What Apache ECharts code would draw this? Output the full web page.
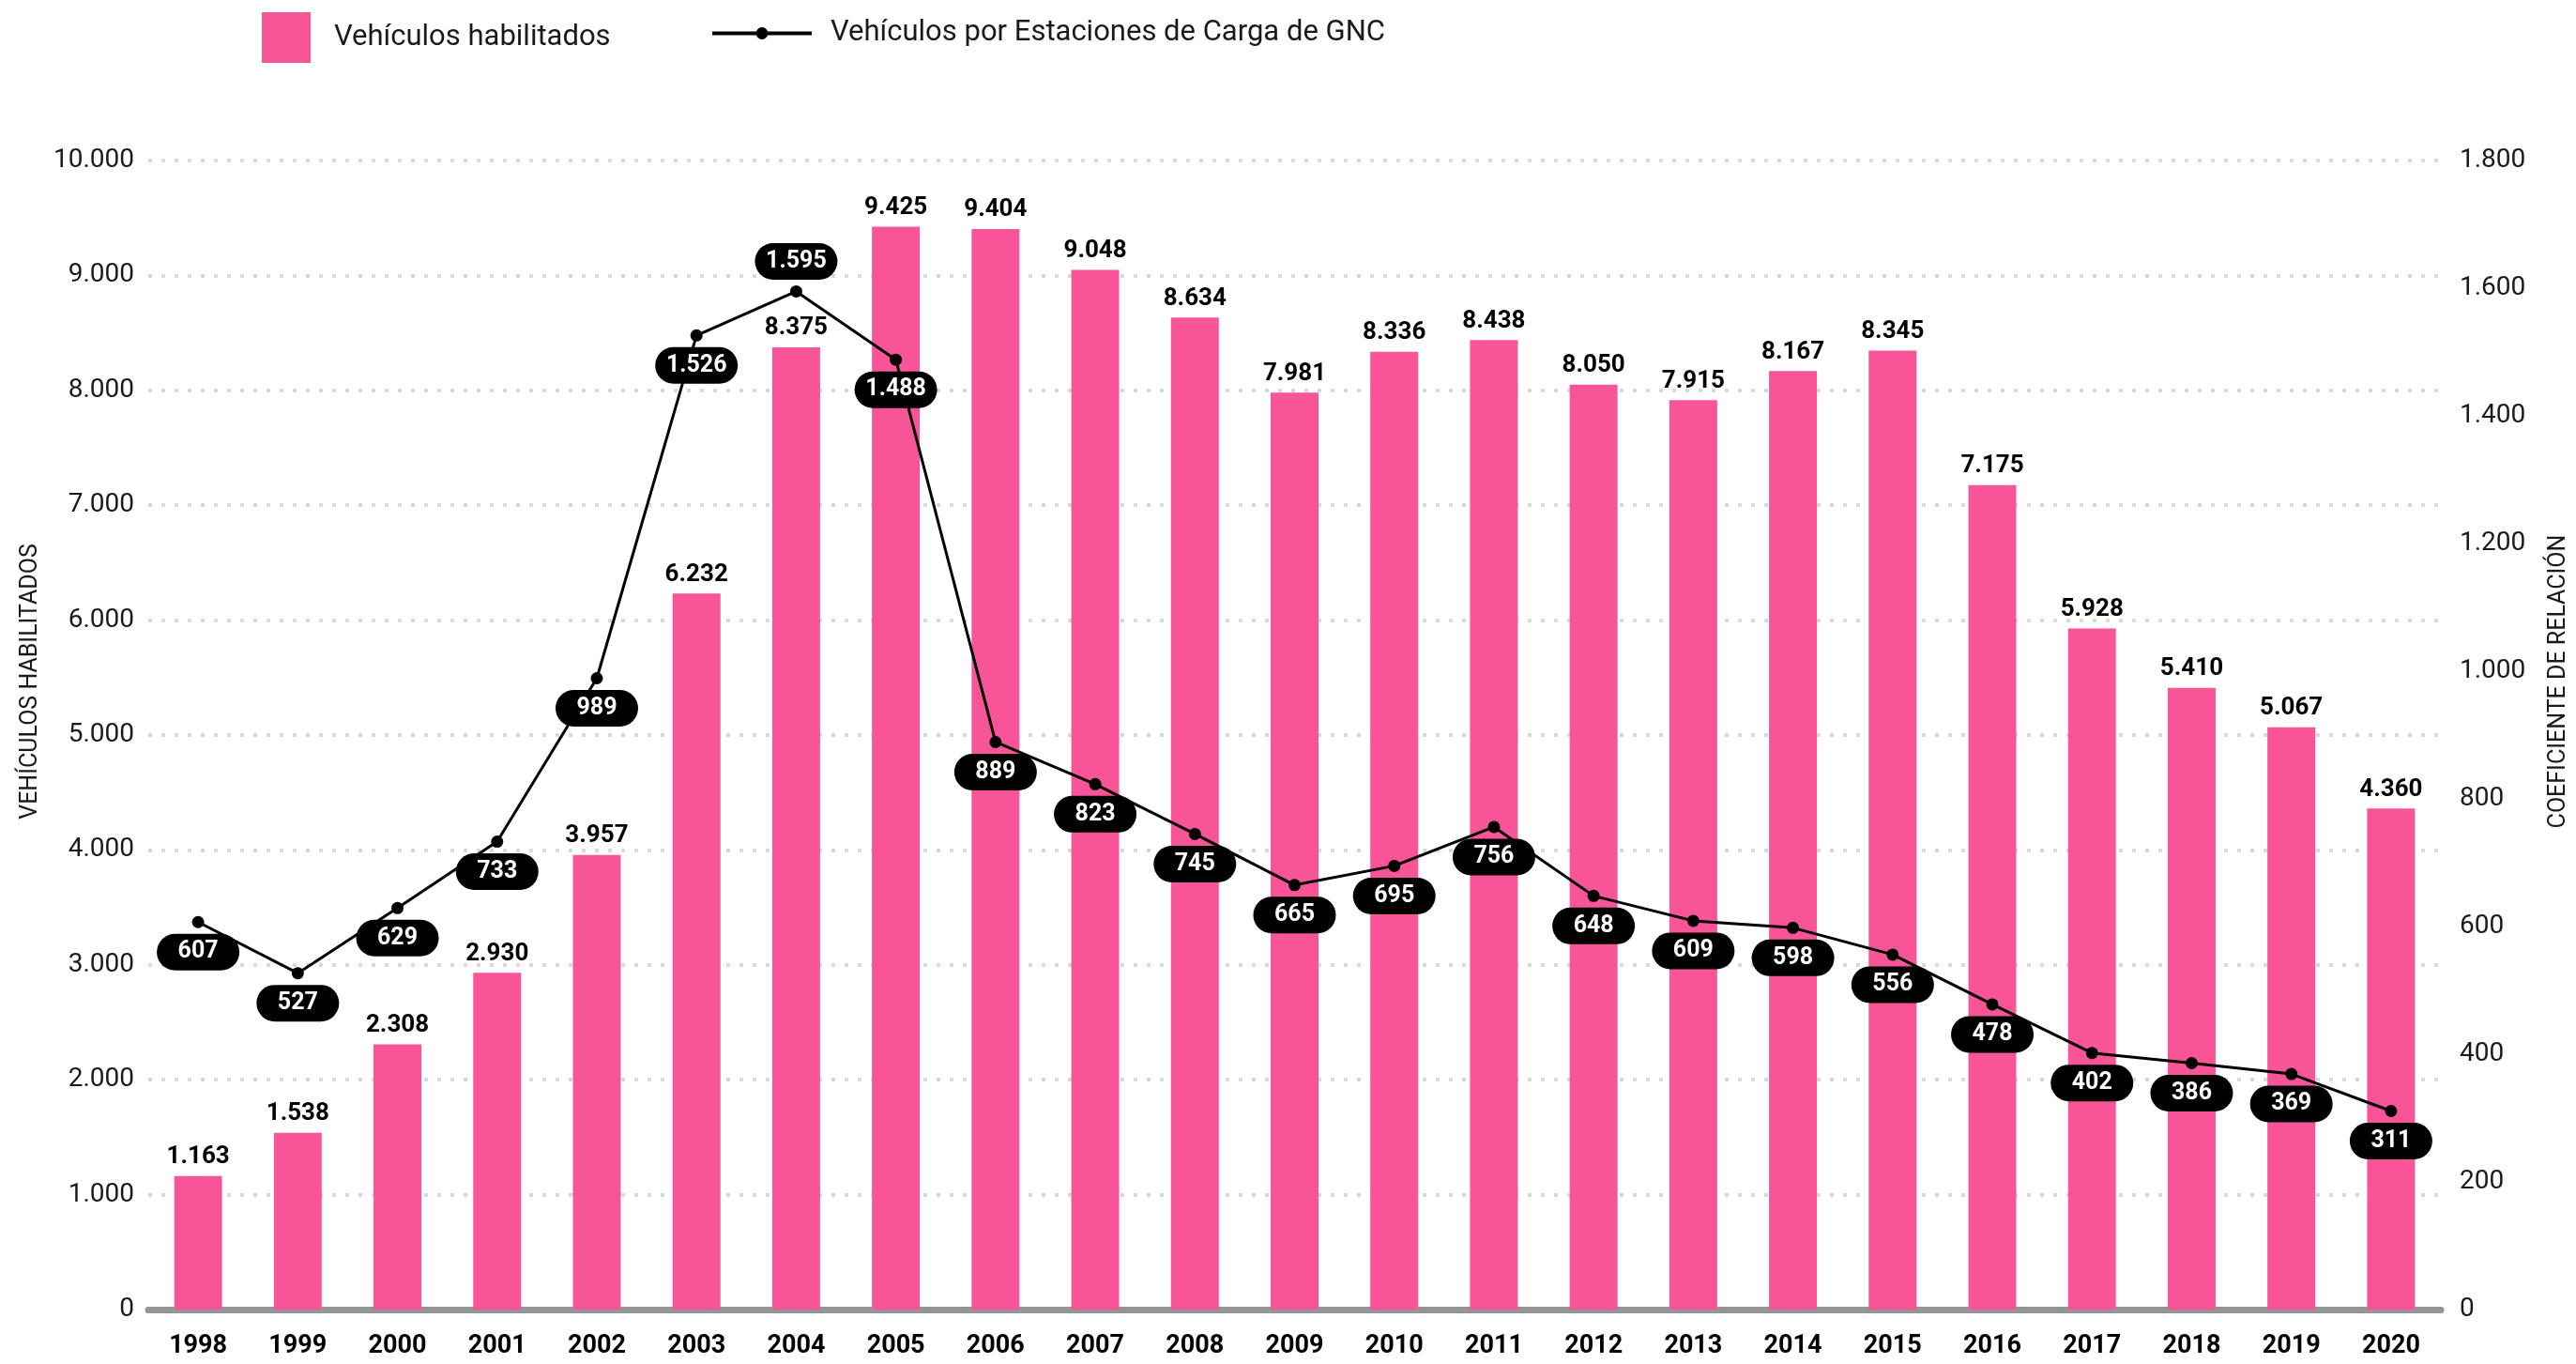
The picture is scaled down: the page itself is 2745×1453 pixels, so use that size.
<!DOCTYPE html>
<html lang="es">
<head>
<meta charset="UTF-8">
<title>Vehículos habilitados GNC</title>
<script src="https://cdn.jsdelivr.net/npm/echarts@6/dist/echarts.min.js"></script>
<style>
  body { margin: 0; padding: 0; background: #fff; overflow: hidden; }
  #chart { width: 2745px; height: 1453px; }
</style>
</head>
<body>
<div id="chart"></div>
<script>
// datos
const years = ['1998','1999','2000','2001','2002','2003','2004','2005','2006','2007','2008','2009','2010','2011','2012','2013','2014','2015','2016','2017','2018','2019','2020'];
const vehiculos = [1163,1538,2308,2930,3957,6232,8375,9425,9404,9048,8634,7981,8336,8438,8050,7915,8167,8345,7175,5928,5410,5067,4360];
const porEstacion = [607,527,629,733,989,1526,1595,1488,889,823,745,665,695,756,648,609,598,556,478,402,386,369,311];
const labelsAbove = ['2004'];

const barName = 'Vehículos habilitados';
const lineName = 'Vehículos por Estaciones de Carga de GNC';
const font = 'Roboto';
const pink = '#F75598';

const fmt = v => String(v).replace(/\B(?=(\d{3})+(?!\d))/g, '.');

const chart = echarts.init(document.getElementById('chart'));

chart.setOption({
    animation: false,
    textStyle: { fontFamily: font },
    legend: [
        {
            data: [{ name: barName, icon: 'rect' }],
            left: 274,
            top: 8,
            itemWidth: 52,
            itemHeight: 54,
            textStyle: { fontSize: 31, color: '#1a1a1a', padding: [0, 0, 0, 20] }
        },
        {
            data: [lineName],
            left: 752,
            top: 15,
            itemWidth: 106,
            itemHeight: 16,
            lineStyle: { width: 4 },
            textStyle: { fontSize: 31, color: '#1a1a1a', padding: [0, 0, 0, 15] }
        }
    ],
    grid: { left: 158, right: 144, top: 171, bottom: 58 },
    xAxis: {
        type: 'category',
        data: years,
        axisLine: { lineStyle: { color: '#939598', width: 7 } },
        axisTick: { show: false },
        axisLabel: { fontSize: 27, fontWeight: 'bold', color: '#000', margin: 26 }
    },
    yAxis: [
        {
            type: 'value',
            min: 0,
            max: 10000,
            interval: 1000,
            axisLine: { show: false },
            axisTick: { show: false },
            axisLabel: { fontSize: 28, color: '#1a1a1a', margin: 15, formatter: fmt },
            splitLine: { lineStyle: { color: '#d9d9d9', width: 4, type: [4, 10] } }
        },
        {
            type: 'value',
            min: 0,
            max: 1800,
            interval: 200,
            axisLine: { show: false },
            axisTick: { show: false },
            axisLabel: { fontSize: 28, color: '#1a1a1a', margin: 20, formatter: fmt },
            splitLine: { show: false }
        }
    ],
    graphic: [
        {
            type: 'text', x: 33, y: 726, rotation: Math.PI / 2,
            style: { text: 'VEHÍCULOS HABILITADOS', font: '25px Roboto', fill: '#1a1a1a', align: 'center', verticalAlign: 'middle' }
        },
        {
            type: 'text', x: 2727, y: 726, rotation: Math.PI / 2,
            style: { text: 'COEFICIENTE DE RELACIÓN', font: '25px Roboto', fill: '#1a1a1a', align: 'center', verticalAlign: 'middle' }
        }
    ],
    series: [
        {
            name: barName,
            type: 'bar',
            data: vehiculos,
            barWidth: 51,
            itemStyle: { color: pink },
            label: {
                show: true,
                position: 'top',
                distance: 7,
                fontSize: 26,
                fontWeight: 'bold',
                color: '#000',
                formatter: p => fmt(p.value)
            },
            z: 2
        },
        {
            name: lineName,
            type: 'line',
            yAxisIndex: 1,
            data: porEstacion.map((v, i) => labelsAbove.includes(years[i]) ? { value: v, label: { position: 'top' } } : v),
            symbol: 'circle',
            symbolSize: 13,
            lineStyle: { color: '#000', width: 3 },
            itemStyle: { color: '#000' },
            label: {
                show: true,
                position: 'bottom',
                distance: 6,
                formatter: p => fmt(p.value),
                color: '#fff',
                fontSize: 25,
                fontWeight: 'bold',
                backgroundColor: '#000',
                borderRadius: 20,
                width: 88,
                height: 39,
                lineHeight: 39,
                align: 'center',
                padding: 0
            },
            z: 5
        }
    ]
});
</script>
</body>
</html>
